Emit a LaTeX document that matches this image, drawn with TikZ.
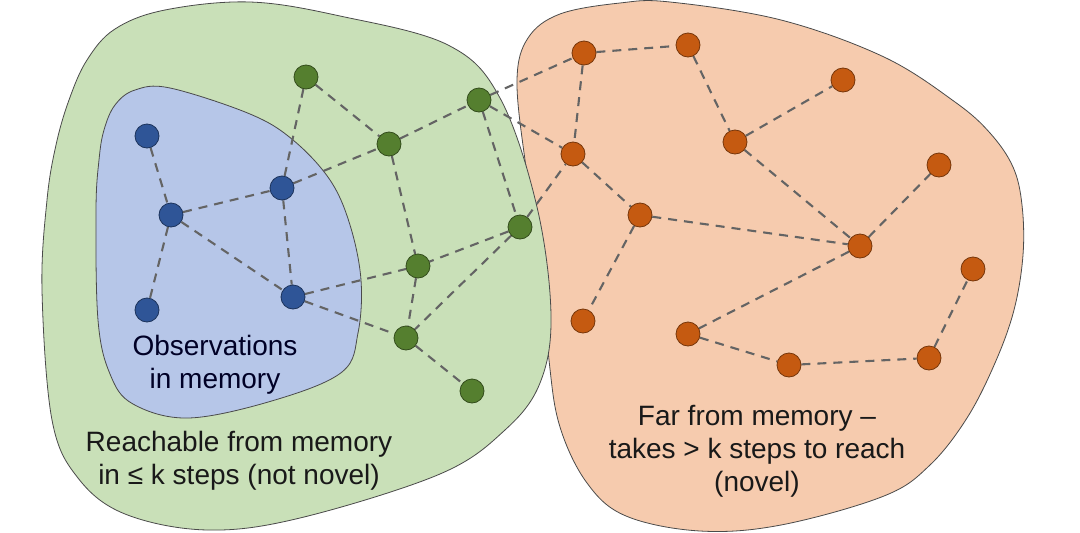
\documentclass[tikz,border=0pt]{standalone}
\usepackage{fontspec}
\setmainfont{Liberation Sans}
\usetikzlibrary{backgrounds}
\definecolor{gfill}{HTML}{C9E0B8}
\definecolor{bfill}{HTML}{B6C6E8}
\definecolor{ofill}{HTML}{F6CBAE}
\definecolor{bnodec}{HTML}{2F5597}
\definecolor{gnodec}{HTML}{557F2F}
\definecolor{onodec}{HTML}{C55A11}
\definecolor{edgec}{HTML}{646464}
\definecolor{blobline}{HTML}{4A4A4A}
\pgfdeclarelayer{blobs}
\pgfdeclarelayer{edges}
\pgfsetlayers{blobs,edges,main}
\tikzset{
  dot/.style={circle,inner sep=0pt,minimum size=24pt,line width=0.8pt},
  bnode/.style={dot,fill=bnodec,draw=bnodec!60!black},
  gnode/.style={dot,fill=gnodec,draw=gnodec!60!black},
  onode/.style={dot,fill=onodec,draw=onodec!60!black},
  link/.style={draw=edgec,line width=2.1pt,dash pattern=on 9pt off 7pt},
  blob/.style={draw=blobline,line width=0.8pt},
  lbl/.style={align=center,font=\fontsize{28}{33}\selectfont}
}
\begin{document}
\begin{tikzpicture}[x=1pt,y=-1pt]
\useasboundingbox (0,0) rectangle (1080,533);
% nodes
\node[bnode] (b1) at (147,136) {};
\node[bnode] (b2) at (171,215) {};
\node[bnode] (b3) at (282,188) {};
\node[bnode] (b4) at (147,310) {};
\node[bnode] (b5) at (293,297) {};
\node[gnode] (g1) at (306,77) {};
\node[gnode] (g2) at (389,144) {};
\node[gnode] (g3) at (479,100) {};
\node[gnode] (g4) at (520,227) {};
\node[gnode] (g5) at (418,266) {};
\node[gnode] (g6) at (406,338) {};
\node[gnode] (g7) at (472,391) {};
\node[onode] (o1) at (584,53) {};
\node[onode] (o2) at (688,45) {};
\node[onode] (o3) at (843,80) {};
\node[onode] (o4) at (735,142) {};
\node[onode] (o5) at (573,154) {};
\node[onode] (o6) at (939,165) {};
\node[onode] (o7) at (640,215) {};
\node[onode] (o8) at (860,246) {};
\node[onode] (o9) at (973,269) {};
\node[onode] (o10) at (583,321) {};
\node[onode] (o11) at (688,334) {};
\node[onode] (o12) at (789,365) {};
\node[onode] (o13) at (929,358) {};
% labels
\node[lbl,text=black!85!blue] (tobs) at (215,365) {Observations\\in memory};
\node[lbl,text=black!90] (treach) at (239,461) {Reachable from memory\\in ≤ k steps (not novel)};
\node[lbl,text=black!90] (tfar) at (757,451) {Far from memory –\\takes > k steps to reach\\(novel)};
% blobs
\begin{pgfonlayer}{blobs}
\draw[blob,fill=ofill] plot[smooth cycle,tension=0.6] coordinates {
 (517,80) (528,38) (560,14) (620,3) (670,2) (781,20) (884,57) (955,102)
 (990,133) (1013,167) (1022,205) (1023,255) (1014,310) (995,363) (967,418) (930,465)
 (884,496) (781,525) (700,531) (626,516) (587,483) (560,427) (549,360)
 (540,250) (525,160)};
\draw[blob,fill=gfill] plot[smooth cycle,tension=0.6] coordinates {
 (42,290) (47,200) (56,145) (69,100) (87,60) (115,29) (165,10) (250,2) (340,16)
 (448,45) (500,98) (537,207) (551,315) (540,383) (505,430) (440,474)
 (300,518) (207,530) (125,514) (78,478) (52,420)};
\draw[blob,fill=bfill] plot[smooth cycle,tension=0.6] coordinates {
 (96,210) (99,160) (104,130) (115,105) (135,90) (170,88) (250,114) (293,140) (330,180)
 (350,225) (361,280) (358,333) (342,372) (275,400) (189,418) (133,404)
 (110,374) (98,320)};
\end{pgfonlayer}
% edges
\begin{pgfonlayer}{edges}
\draw[link] (b1) -- (b2);
\draw[link] (b2) -- (b3);
\draw[link] (b2) -- (b4);
\draw[link] (b2) -- (b5);
\draw[link] (b3) -- (b5);
\draw[link] (b3) -- (g1);
\draw[link] (b3) -- (g2);
\draw[link] (b5) -- (g5);
\draw[link] (b5) -- (g6);
\draw[link] (g1) -- (g2);
\draw[link] (g2) -- (g3);
\draw[link] (g2) -- (g5);
\draw[link] (g3) -- (g4);
\draw[link] (g4) -- (g5);
\draw[link] (g4) -- (g6);
\draw[link] (g5) -- (g6);
\draw[link] (g6) -- (g7);
\draw[link] (g3) -- (o1);
\draw[link] (g3) -- (o5);
\draw[link] (g4) -- (o5);
\draw[link] (o1) -- (o2);
\draw[link] (o1) -- (o5);
\draw[link] (o2) -- (o4);
\draw[link] (o4) -- (o3);
\draw[link] (o4) -- (o8);
\draw[link] (o5) -- (o7);
\draw[link] (o7) -- (o8);
\draw[link] (o8) -- (o6);
\draw[link] (o7) -- (o10);
\draw[link] (o8) -- (o11);
\draw[link] (o11) -- (o12);
\draw[link] (o12) -- (o13);
\draw[link] (o13) -- (o9);
\end{pgfonlayer}
\end{tikzpicture}
\end{document}
